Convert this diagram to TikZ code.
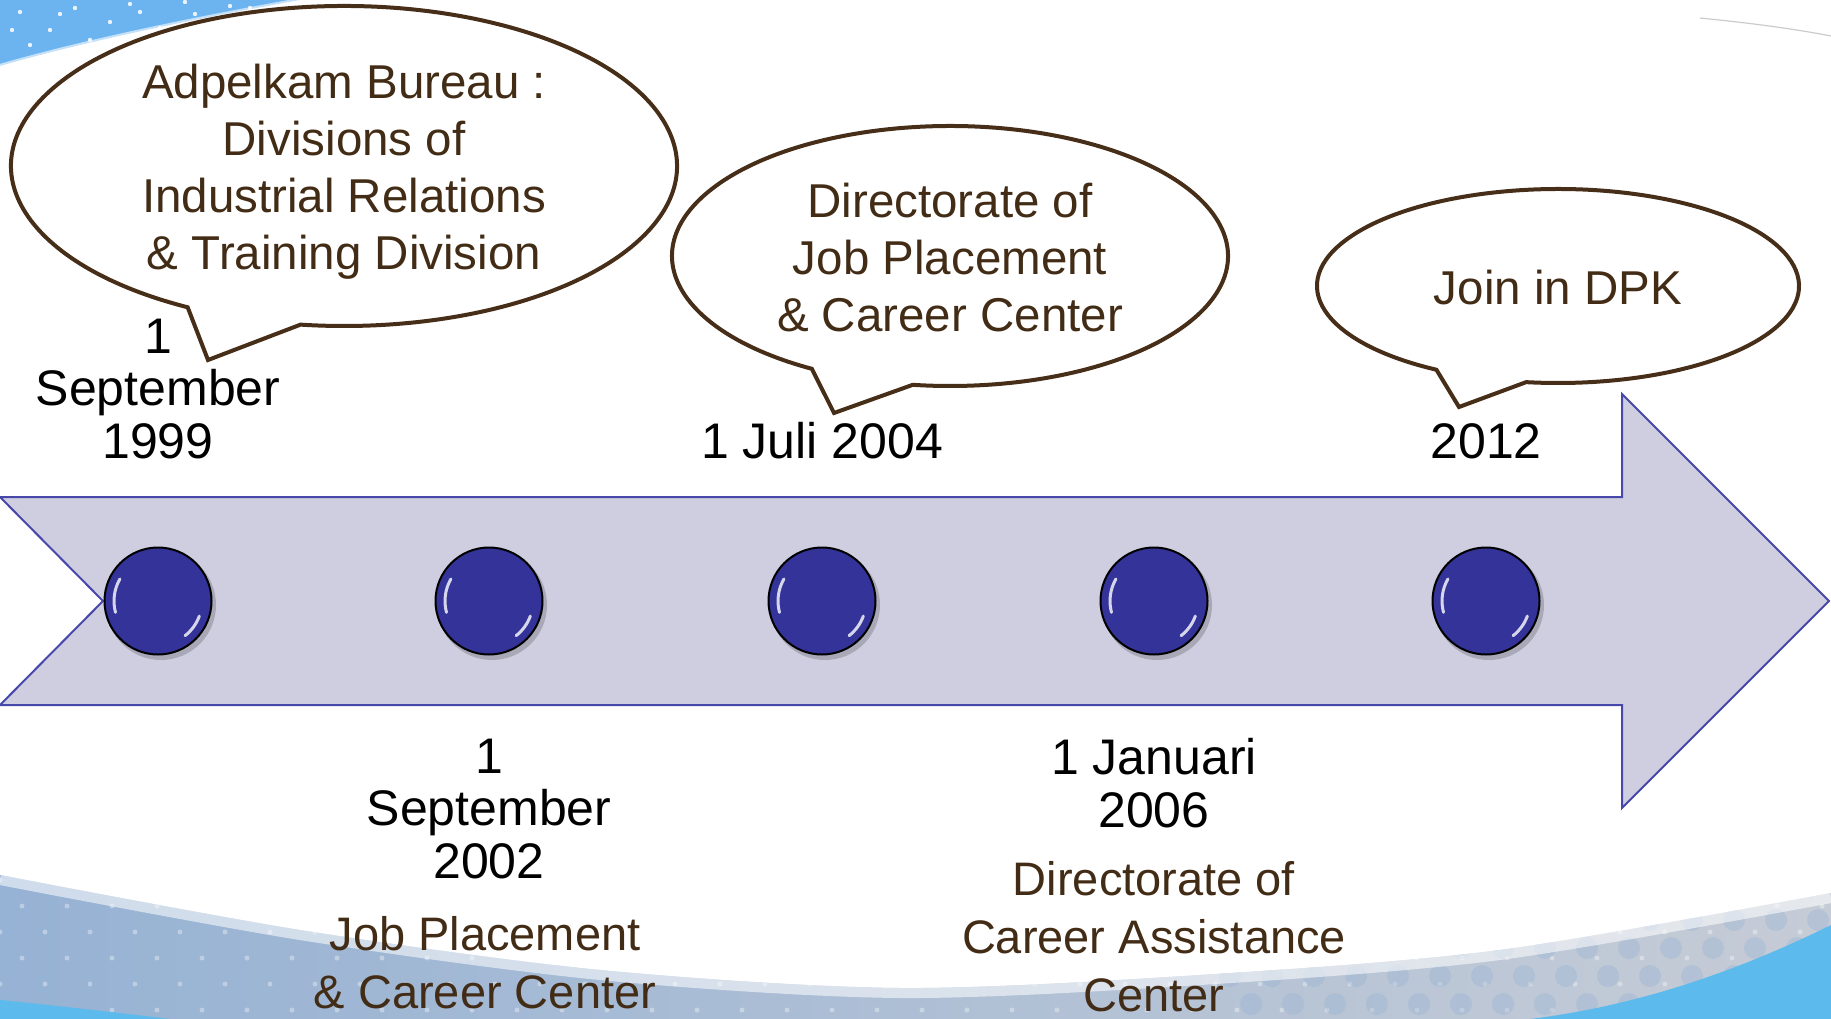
\documentclass[tikz,border=0pt]{standalone}
\usepackage{fontspec}
\setmainfont{Liberation Sans}
\definecolor{bubbleline}{RGB}{70,46,24}
\definecolor{browntext}{RGB}{66,44,22}
\definecolor{arrowfill}{RGB}{206,206,224}
\definecolor{arrowline}{RGB}{72,72,170}
\definecolor{dotblue}{RGB}{51,51,153}
\definecolor{topblue}{RGB}{108,180,240}
\definecolor{bandleft}{RGB}{150,178,212}
\definecolor{bandright}{RGB}{198,204,214}
\definecolor{brightblue}{RGB}{92,186,236}
\begin{document}
\begin{tikzpicture}[x=1pt,y=-1pt,
  bubble/.style={draw=bubbleline, line width=4pt, fill=white, line join=miter},
  btext/.style={text=browntext, font=\fontsize{47.5}{57}\selectfont, align=center, inner sep=0pt},
  dtext/.style={text=black, font=\fontsize{50}{52.5}\selectfont, align=center, inner sep=0pt},
  ltext/.style={text=browntext, font=\fontsize{47}{58}\selectfont, align=center, inner sep=0pt},
  dotnode/.style={circle, fill=dotblue, draw=black, line width=2pt, minimum size=107pt, inner sep=0pt},
  glint/.style={white, line width=3pt, opacity=0.8, line cap=round},
]
\useasboundingbox (0,0) rectangle (1831,1019);
\clip (0,0) rectangle (1831,1019);
\fill[white] (0,0) rectangle (1831,1019);

% top-left blue swoosh
\fill[topblue] (0,0) -- (300,0) .. controls (200,18) and (90,40) .. (0,66) -- cycle;
\draw[white, line width=8pt, opacity=0.6] (300,2) .. controls (200,20) and (90,42) .. (0,68);
\foreach \px/\py in {20/12, 50/30, 75/8, 110/22, 140/12, 160/28, 195/14, 230/6, 30/45, 90/40, 250/8, 130/4, 12/30, 60/14, 185/2}
  \fill[white, opacity=0.85] (\px,\py) circle (2.2);
% top-right faint line
\draw[gray!40, line width=1.2pt] (1700,18) .. controls (1760,24) and (1800,30) .. (1831,36);

% bottom band
\shade[left color=bandleft, right color=bandright]
  plot[smooth] coordinates {(0,875) (300,930) (600,970) (900,988) (1200,975) (1500,950) (1831,893)}
  -- (1831,1019) -- (0,1019) -- cycle;
\begin{scope}
  \clip plot[smooth] coordinates {(0,875) (300,930) (600,970) (900,988) (1200,975) (1500,950) (1831,893)}
  -- (1831,1019) -- (0,1019) -- cycle;
  \foreach \i in {0,...,40} {
    \foreach \j in {0,...,5} {
      \fill[white, opacity=0.35] ({\i*45 + mod(\j,2)*22},{880+\j*26}) circle (2.5);
    }
  }
  \foreach \i in {0,...,14} {
    \foreach \j in {0,...,3} {
      \fill[bandleft, opacity=0.35] ({1230+\i*42 + mod(\j,2)*21},{920+\j*28}) circle (11);
    }
  }
\end{scope}
\draw[white, line width=10pt, opacity=0.55]
  plot[smooth] coordinates {(0,880) (300,935) (600,975) (900,993) (1200,980) (1500,955) (1831,898)};
\fill[brightblue] (0,1000) .. controls (60,1006) and (120,1013) .. (170,1019) -- (0,1019) -- cycle;
\fill[brightblue] (1831,925) .. controls (1720,980) and (1620,1008) .. (1530,1019) -- (1831,1019) -- cycle;

% timeline arrow
\draw[fill=arrowfill, draw=arrowline, line width=2pt, line join=miter]
  (0,497) -- (1622,497) -- (1622,394) -- (1829,601) -- (1622,808) -- (1622,705) -- (0,705) -- (103,601) -- cycle;

% dots
\foreach \n/\cx in {c1/158, c2/489, c3/822, c4/1154, c5/1486} {
  \fill[black, opacity=0.18] (\cx+3,605) circle (55);
  \node[dotnode] (\n) at (\cx,601) {};
  \draw[glint] (\n.center) ++(-195:44) arc[start angle=-195, end angle=-150, radius=44];
  \draw[glint] (\n.center) ++(20:44) arc[start angle=20, end angle=52, radius=44];
}

% bubbles
\draw[bubble] (344,166) ++(118:333 and 160)
  arc[start angle=118, end angle=457.5, x radius=333, y radius=160] -- (208,360) -- cycle;
\draw[bubble] (950,256) ++(119.8:278 and 130)
  arc[start angle=119.8, end angle=457.7, x radius=278, y radius=130] -- (834,413) -- cycle;
\draw[bubble] (1558,286) ++(120.3:241 and 97)
  arc[start angle=120.3, end angle=457.6, x radius=241, y radius=97] -- (1459,407) -- cycle;

\node[btext] (b1) at (344,172) {Adpelkam Bureau :\\Divisions of\\Industrial Relations\\\& Training Division};
\node[btext] (b2) at (950,258) {Directorate of\\Job Placement\\\& Career Center};
\node[btext] (b3) at (1558,288) {Join in DPK};

% dates
\node[dtext] (d1) at (158,389) {1\\September\\1999};
\node[dtext] (d2) at (822,441) {1 Juli 2004};
\node[dtext] (d3) at (1486,441) {2012};
\node[dtext] (d4) at (489,809) {1\\September\\2002};
\node[dtext] (d5) at (1154,783) {1 Januari\\2006};

% lower descriptions
\node[ltext] (t4) at (485,963) {Job Placement\\\& Career Center};
\node[ltext] (t5) at (1154,937) {Directorate of\\Career Assistance\\Center};
\end{tikzpicture}
\end{document}
